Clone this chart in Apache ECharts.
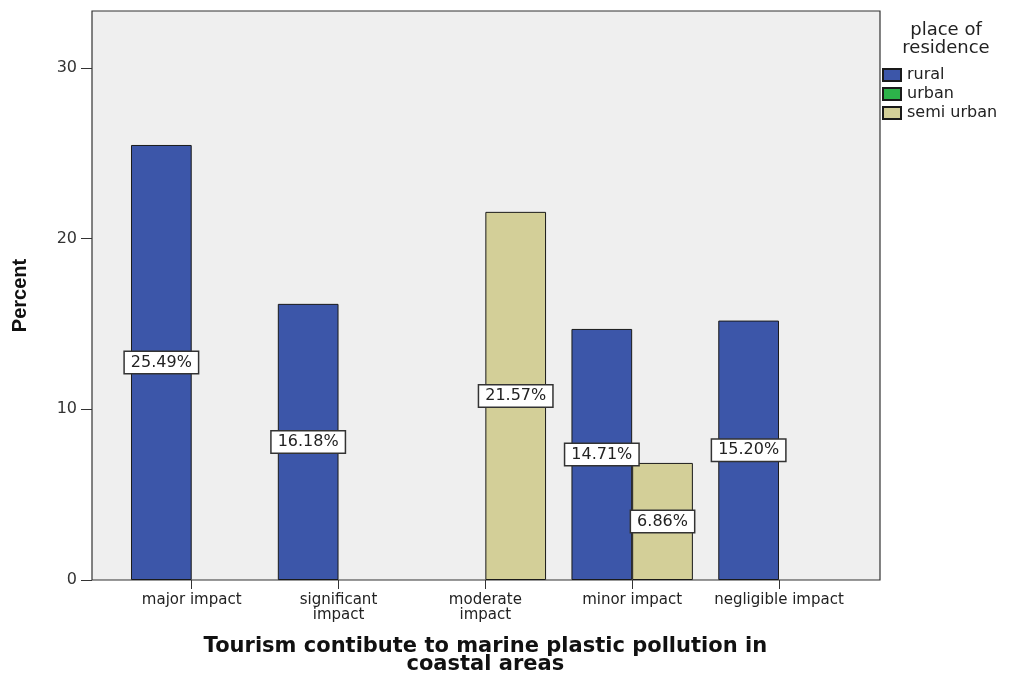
<!DOCTYPE html>
<html><head><meta charset="utf-8">
<script src="https://cdn.jsdelivr.net/npm/echarts@6/dist/echarts.min.js"></script>
<style>html,body{margin:0;padding:0;background:#fff}#c{width:1009px;height:678px}</style>
</head><body><div id="c"></div>
<script>
const categories = ['major impact', 'significant\nimpact', 'moderate\nimpact', 'minor impact', 'negligible impact'];
const seriesNames = ['rural', 'urban', 'semi urban'];
const rural = [25.49, 16.18, null, 14.71, 15.20];
const urban = [];
const semiUrban = [null, null, 21.57, 6.86, null];
const yTickMax = 30;
const yTickStep = 10;
const yAxisTop = 33.34;
const xTitle = 'Tourism contibute to marine plastic pollution in\ncoastal areas';
const yTitle = 'Percent';
const legendTitle = 'place of\nresidence';

const F = '"DejaVu Sans", Verdana, sans-serif';
const labelCfg = {
  show: true, position: 'inside',
  formatter: p => p.value == null ? '' : p.value.toFixed(2) + '%',
  backgroundColor: '#fff', borderColor: '#333', borderWidth: 1.5,
  padding: [3, 6, 2, 6], color: '#222', fontSize: 16, fontFamily: F
};
const chart = echarts.init(document.getElementById('c'), null, {renderer: 'canvas'});
chart.setOption({
  animation: false,
  backgroundColor: '#fff',
  grid: [
    {left: 92, top: 11, width: 788, height: 569, show: true, backgroundColor: '#efefef', borderColor: '#333', borderWidth: 1.2, containLabel: false, outerBoundsMode: 'none'},
    {left: 118.3, top: 11, width: 734.1, height: 569, containLabel: false, outerBoundsMode: 'none'},
    {left: 92, top: 68, width: 788, height: 512, containLabel: false, outerBoundsMode: 'none'}
  ],
  xAxis: [
    {gridIndex: 0, type: 'value', show: false},
    {gridIndex: 1, type: 'category', data: categories,
      axisLine: {show: false},
      axisTick: {show: true, alignWithLabel: true, length: 9, lineStyle: {color: '#333'}},
      axisLabel: {margin: 13, fontSize: 15, color: '#222', fontFamily: F, lineHeight: 15, interval: 0},
      name: xTitle, nameLocation: 'middle', nameGap: 58,
      nameTextStyle: {fontSize: 21, fontWeight: 'bold', color: '#111', fontFamily: F, lineHeight: 18, align: 'center'}
    },
    {gridIndex: 2, type: 'value', show: false}
  ],
  yAxis: [
    {gridIndex: 0, type: 'value', min: 0, max: yAxisTop,
      axisLine: {show: false}, axisTick: {show: false}, axisLabel: {show: false}, splitLine: {show: false},
      name: yTitle, nameLocation: 'middle', nameGap: 62, nameRotate: 90,
      nameTextStyle: {fontSize: 20, fontWeight: 'bold', color: '#111', fontFamily: '"Liberation Sans Narrow", "Liberation Sans", Arial, sans-serif'}
    },
    {gridIndex: 1, type: 'value', min: 0, max: yAxisTop, show: false},
    {gridIndex: 2, type: 'value', min: 0, max: yTickMax, interval: yTickStep,
      axisLine: {show: false}, splitLine: {show: false},
      axisTick: {show: true, length: 11, lineStyle: {color: '#333'}},
      axisLabel: {fontSize: 16, color: '#333', fontFamily: F, margin: 15}
    }
  ],
  legend: {
    data: seriesNames, orient: 'vertical', left: 882, top: 67, padding: 0,
    itemWidth: 18, itemHeight: 12, itemGap: 3, icon: 'rect',
    textStyle: {fontSize: 16, color: '#222', fontFamily: F, lineHeight: 14, padding: [0, 0, 0, 1]}
  },
  graphic: [
    {type: 'text', x: 946, y: 21, style: {text: legendTitle, align: 'center', verticalAlign: 'top', font: '18px "DejaVu Sans"', fill: '#222', lineHeight: 18}}
  ],
  series: [
    {name: 'rural', type: 'bar', xAxisIndex: 1, yAxisIndex: 1, data: rural,
      barGap: '0%', barCategoryGap: '17.3%',
      itemStyle: {color: '#3c56a9', borderColor: '#1a1a1a', borderWidth: 1}, label: labelCfg},
    {name: 'urban', type: 'bar', xAxisIndex: 2, yAxisIndex: 2, data: urban,
      itemStyle: {color: '#2db34a', borderColor: '#1a1a1a', borderWidth: 1}},
    {name: 'semi urban', type: 'bar', xAxisIndex: 1, yAxisIndex: 1, data: semiUrban,
      barGap: '0%', barCategoryGap: '17.3%',
      itemStyle: {color: '#d3cf98', borderColor: '#1a1a1a', borderWidth: 1}, label: labelCfg}
  ]
});
</script></body></html>
